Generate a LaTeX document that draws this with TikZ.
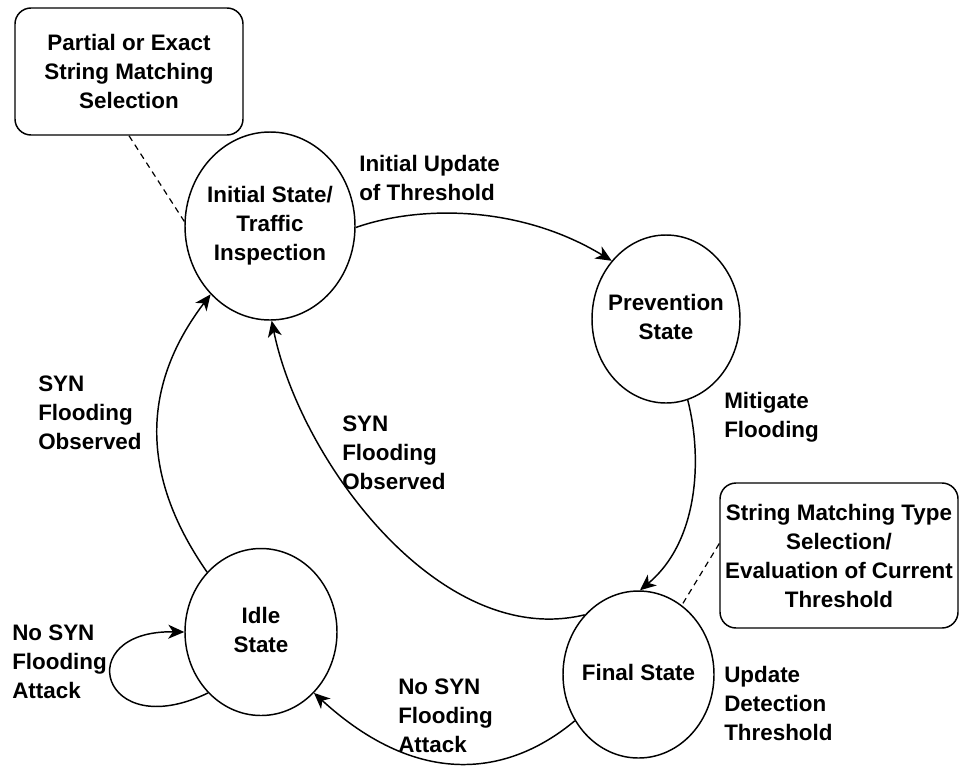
\documentclass[tikz,border=0pt]{standalone}
\usepackage{fontspec}
\setmainfont{Liberation Sans}
\usetikzlibrary{arrows.meta,shapes.geometric}
% centred multi-line text that does not widen the ellipse around it
\newcommand{\stext}[1]{\makebox[0pt]{\begin{tabular}{@{}c@{}}#1\end{tabular}}}
\begin{document}
\begin{tikzpicture}[x=0.75pt,y=-0.75pt,
  every node/.style={font=\fontsize{16.8}{21.75}\selectfont\bfseries},
  state/.style={ellipse,draw,line width=1.1pt,inner sep=0pt},
  note/.style={draw,rounded corners=12pt,line width=1.1pt,align=center,inner sep=0pt},
  lbl/.style={anchor=west,align=left,inner sep=0pt},
  edge/.style={draw,line width=1.1pt,-{Stealth[length=12pt,width=10.5pt,inset=3.5pt]}},
  link/.style={draw,line width=0.9pt,dash pattern=on 4.5pt off 3.5pt}]
\useasboundingbox (0,0) rectangle (959,775);

% states
\node[state,minimum width=127.5pt,minimum height=141pt] (init) at (270,226)
  {\stext{Initial State/\\Traffic\\Inspection}};
\node[state,minimum width=111pt,minimum height=126pt] (prev) at (666,319)
  {\stext{Prevention\\State}};
\node[state,minimum width=113.25pt,minimum height=125.25pt] (final) at (638.5,674.5)
  {\stext{Final State}};
\node[state,minimum width=114pt,minimum height=125.25pt] (idle) at (261,632)
  {\stext{Idle\\State}};

% notes
\node[note,minimum width=171pt,minimum height=95.25pt] (box1) at (129,71.5)
  {Partial or Exact\\String Matching\\Selection};
\node[note,minimum width=178.5pt,minimum height=108.75pt] (box2) at (839,555.5)
  {String Matching Type\\Selection/\\Evaluation of Current\\Threshold};

% transition labels
\node[lbl] (lupd) at (359,177.5) {Initial Update\\of Threshold};
\node[lbl] (lmit) at (724,417.5) {Mitigate\\Flooding};
\node[lbl] (ldet) at (724,703) {Update\\Detection\\Threshold};
\node[lbl] (lsyn1) at (342,453) {SYN\\Flooding\\Observed};
\node[lbl] (lsyn2) at (38,413) {SYN\\Flooding\\Observed};
\node[lbl] (lno1) at (12,662) {No SYN\\Flooding\\Attack};
\node[lbl] (lno2) at (398,716) {No SYN\\Flooding\\Attack};

% transitions
\draw[edge] (init.-1) .. controls (420,205) and (520,205) .. (prev.133);
\draw[edge] (prev.-75) .. controls (702,455) and (700,540) .. (final.89);
\draw[edge] (final.132) .. controls (440,650) and (300,460) .. (init.-89);
\draw[edge] (idle.132) .. controls (143,480) and (138,390) .. (init.-131);
\draw[edge] (idle.-131) .. controls (100,745) and (70,630) .. (idle.180);
\draw[edge] (final.-144) .. controls (510,775) and (420,790) .. (idle.-49);

% note links
\draw[link] (box1.south) -- (init.177);
\draw[link] ([yshift=9pt]box2.west) -- (final.58);
\end{tikzpicture}
\end{document}
